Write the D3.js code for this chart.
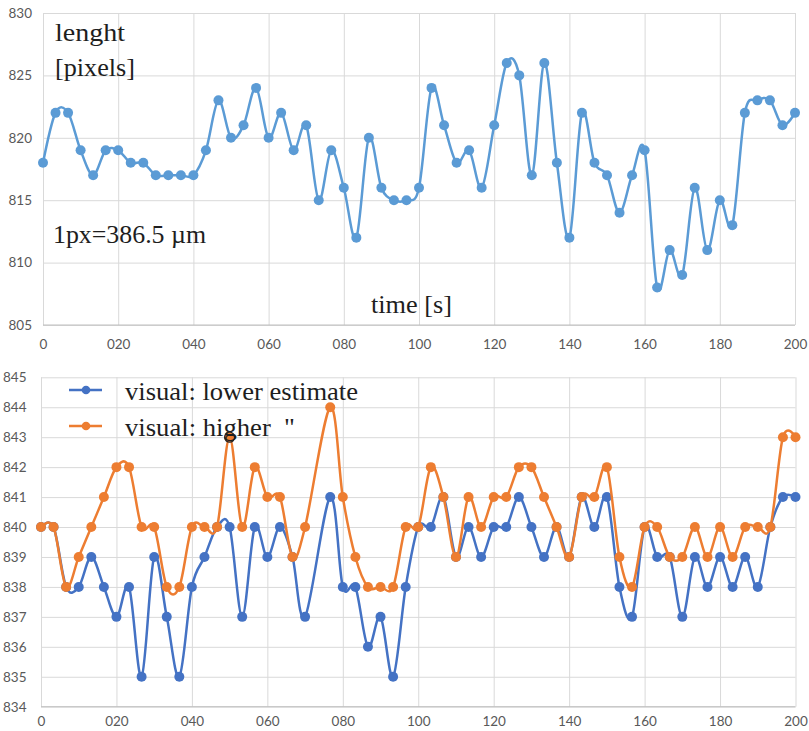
<!DOCTYPE html>
<html>
<head>
<meta charset="utf-8">
<script src="https://cdn.jsdelivr.net/npm/d3@7"></script>
<style>
  body { margin: 0; background: #fff; }
  .tick text { font-family: Lato, "Open Sans", sans-serif; font-size: 13.5px; fill: #595959; }
  .grid line { stroke: #d9d9d9; stroke-width: 1; }
  .note { font-family: "Liberation Serif", serif; font-size: 25px; fill: #1e1e1e; white-space: pre; }
</style>
</head>
<body>
<svg id="chart" width="809" height="731"></svg>
<script>
// frames 0..60 (30 fps, 2 s); one tick label every 6 frames
let frameTicks = [0, 6, 12, 18, 24, 30, 36, 42, 48, 54, 60];
let timeLabels = ["0", "020", "040", "060", "080", "100", "120", "140", "160", "180", "200"];

let lengthTicks = [805, 810, 815, 820, 825, 830];
let lengthPx = [818, 822, 822, 819, 817, 819, 819, 818, 818, 817, 817, 817, 817, 819, 823, 820,
    821, 824, 820, 822, 819, 821, 815, 819, 816, 812, 820, 816, 815, 815, 816, 824, 821, 818,
    819, 816, 821, 826, 825, 817, 826, 818, 812, 822, 818, 817, 814, 817, 819, 808, 811, 809,
    816, 811, 815, 813, 822, 823, 823, 821, 822];

let visualTicks = [834, 835, 836, 837, 838, 839, 840, 841, 842, 843, 844, 845];
// frame 22 has no value in either estimate
let lowerEstimate = [840, 840, 838, 838, 839, 838, 837, 838, 835, 839, 837, 835, 838, 839, 840,
    840, 837, 840, 839, 840, 839, 837, null, 841, 838, 838, 836, 837, 835, 838, 840, 840, 841,
    839, 840, 839, 840, 840, 841, 840, 839, 840, 839, 841, 840, 841, 838, 837, 840, 839, 839,
    837, 839, 838, 839, 838, 839, 838, 840, 841, 841];
let higherEstimate = [840, 840, 838, 839, 840, 841, 842, 842, 840, 840, 838, 838, 840, 840, 840,
    843, 840, 842, 841, 841, 839, 840, null, 844, 841, 839, 838, 838, 838, 840, 840, 842, 841,
    839, 841, 840, 841, 841, 842, 842, 841, 840, 839, 841, 841, 842, 839, 838, 840, 840, 839,
    839, 840, 839, 840, 839, 840, 840, 840, 843, 843];
let selectedHigher = [15];

let svg = d3.select("#chart");

function drawPanel(box, yTicks, series) {
    let x = d3.scaleLinear().domain([0, 60]).range([box.left, box.right]);
    let y = d3.scaleLinear().domain(d3.extent(yTicks)).range([box.bottom, box.top]);

    let hgrid = svg.append("g")
        .attr("class", "grid")
        .attr("transform", "translate(" + box.left + ",0)")
        .call(d3.axisLeft(y).tickValues(yTicks).tickSize(-(box.right - box.left)).tickFormat(""));
    hgrid.select(".domain").remove();

    let vgrid = svg.append("g")
        .attr("class", "grid")
        .attr("transform", "translate(0," + box.bottom + ")")
        .call(d3.axisBottom(x).tickValues(frameTicks).tickSize(-(box.bottom - box.top)).tickFormat(""));
    vgrid.select(".domain").remove();

    svg.append("line")
        .attr("x1", box.left).attr("x2", box.right)
        .attr("y1", box.bottom).attr("y2", box.bottom)
        .attr("stroke", "#bfbfbf");

    let yAxis = svg.append("g")
        .attr("transform", "translate(" + box.left + ",0)")
        .call(d3.axisLeft(y).tickValues(yTicks).tickSize(0).tickPadding(box.yPad));
    yAxis.select(".domain").remove();

    let xAxis = svg.append("g")
        .attr("transform", "translate(0," + box.bottom + ")")
        .call(d3.axisBottom(x).tickValues(frameTicks).tickSize(0).tickPadding(box.xPad)
            .tickFormat((d, i) => timeLabels[i]));
    xAxis.select(".domain").remove();

    let line = d3.line()
        .x(d => x(d.i))
        .y(d => y(d.v))
        .curve(d3.curveCatmullRom.alpha(0));

    series.forEach(s => {
        let pts = s.values.map((v, i) => ({i: i, v: v})).filter(d => d.v !== null);
        svg.append("path")
            .datum(pts)
            .attr("fill", "none")
            .attr("stroke", s.color)
            .attr("stroke-width", 2.5)
            .attr("stroke-linejoin", "round")
            .attr("d", line);
        svg.append("g").selectAll("circle")
            .data(pts)
            .join("circle")
            .attr("cx", d => x(d.i))
            .attr("cy", d => y(d.v))
            .attr("r", 5)
            .attr("fill", s.color)
            .attr("stroke", d => (s.selected || []).includes(d.i) ? "#222" : "none")
            .attr("stroke-width", 1.3);
    });
}

drawPanel({left: 43, right: 795, top: 13, bottom: 325, yPad: 11, xPad: 14},
    lengthTicks, [{values: lengthPx, color: "#5b9bd5"}]);

drawPanel({left: 41, right: 795.5, top: 377.3, bottom: 706.7, yPad: 14.5, xPad: 10},
    visualTicks, [
        {values: lowerEstimate, color: "#4472c4"},
        {values: higherEstimate, color: "#ed7d31", selected: selectedHigher}
    ]);

function note(txt, x, y, w) {
    svg.append("text")
        .attr("class", "note")
        .attr("x", x).attr("y", y)
        .attr("textLength", w)
        .attr("lengthAdjust", "spacingAndGlyphs")
        .text(txt);
}

note("lenght", 55, 41, 70);
note("[pixels]", 55, 76, 80);
note("1px=386.5 \u00b5m", 53, 243, 153);
note("time [s]", 371, 313, 81);

// legend of the lower panel
let legend = [
    {name: "visual: lower estimate", color: "#4472c4", y: 390, w: 233},
    {name: "visual: higher  \"", color: "#ed7d31", y: 426, w: 170}
];
legend.forEach(l => {
    svg.append("line")
        .attr("x1", 69).attr("x2", 102)
        .attr("y1", l.y).attr("y2", l.y)
        .attr("stroke", l.color).attr("stroke-width", 2.5);
    svg.append("circle")
        .attr("cx", 86).attr("cy", l.y).attr("r", 4.3)
        .attr("fill", l.color);
    note(l.name, 125, l.y + 9.5, l.w);
});
</script>
</body>
</html>
